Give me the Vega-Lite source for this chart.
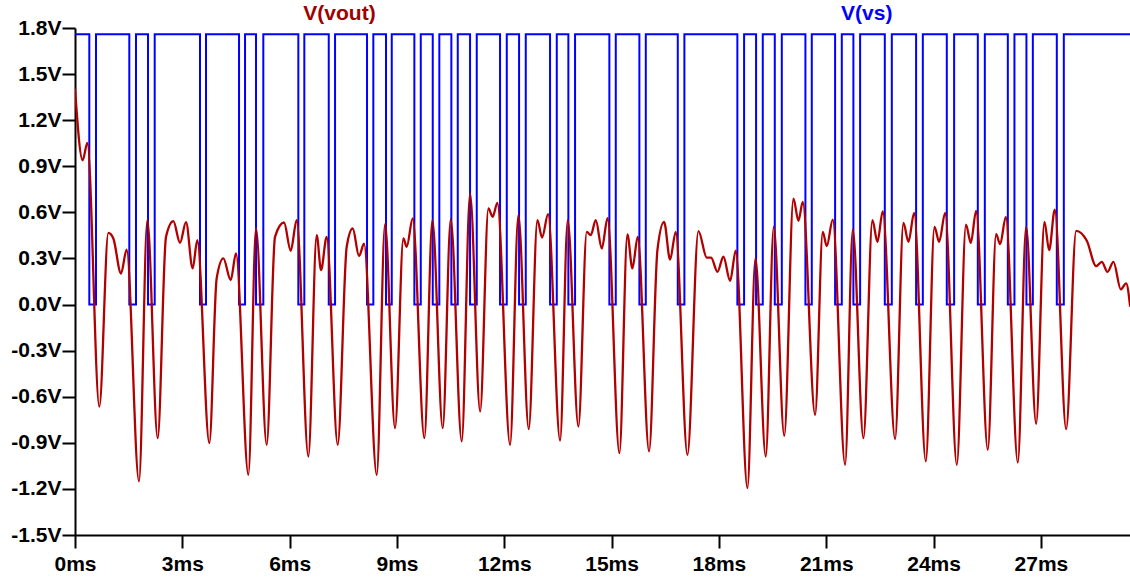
{
  "$schema": "https://vega.github.io/schema/vega-lite/v6.json",
  "autosize": {"type": "none"},
  "width": 1055,
  "height": 507,
  "padding": {"left": 75, "top": 28, "right": 0, "bottom": 42},
  "background": "white",
  "config": {
    "view": {"stroke": null},
    "axis": {
      "grid": false,
      "domainColor": "black",
      "domainWidth": 2,
      "tickColor": "black",
      "tickWidth": 2,
      "labelColor": "black",
      "labelFont": "Liberation Sans",
      "labelFontSize": 21,
      "labelFontWeight": "bold",
      "title": null
    }
  },
  "datasets": {
    "vs": [
      {"t": 0, "v": 1.76}, {"t": 0.400, "v": 0}, {"t": 0.587, "v": 1.76},
      {"t": 1.518, "v": 0}, {"t": 1.705, "v": 1.76}, {"t": 2.041, "v": 0}, {"t": 2.228, "v": 1.76},
      {"t": 3.494, "v": 0}, {"t": 3.662, "v": 1.76}, {"t": 4.585, "v": 0}, {"t": 4.753, "v": 1.76},
      {"t": 5.060, "v": 0}, {"t": 5.264, "v": 1.76}, {"t": 6.243, "v": 0}, {"t": 6.410, "v": 1.76},
      {"t": 7.093, "v": 0}, {"t": 7.269, "v": 1.76}, {"t": 8.163, "v": 0}, {"t": 8.339, "v": 1.76},
      {"t": 8.694, "v": 0}, {"t": 8.854, "v": 1.76}, {"t": 9.486, "v": 0}, {"t": 9.665, "v": 1.76},
      {"t": 10.000, "v": 0}, {"t": 10.184, "v": 1.76}, {"t": 10.520, "v": 0}, {"t": 10.699, "v": 1.76},
      {"t": 11.043, "v": 0}, {"t": 11.230, "v": 1.76}, {"t": 11.881, "v": 0}, {"t": 12.069, "v": 1.76},
      {"t": 12.413, "v": 0}, {"t": 12.600, "v": 1.76}, {"t": 13.279, "v": 0}, {"t": 13.467, "v": 1.76},
      {"t": 13.791, "v": 0}, {"t": 13.978, "v": 1.76}, {"t": 14.937, "v": 0}, {"t": 15.116, "v": 1.76},
      {"t": 15.776, "v": 0}, {"t": 15.955, "v": 1.76}, {"t": 16.849, "v": 0}, {"t": 17.034, "v": 1.76},
      {"t": 18.515, "v": 0}, {"t": 18.703, "v": 1.76}, {"t": 19.038, "v": 0}, {"t": 19.225, "v": 1.76},
      {"t": 19.561, "v": 0}, {"t": 19.757, "v": 1.76}, {"t": 20.417, "v": 0}, {"t": 20.595, "v": 1.76},
      {"t": 21.247, "v": 0}, {"t": 21.434, "v": 1.76}, {"t": 21.758, "v": 0}, {"t": 21.946, "v": 1.76},
      {"t": 22.636, "v": 0}, {"t": 22.832, "v": 1.76}, {"t": 23.511, "v": 0}, {"t": 23.699, "v": 1.76},
      {"t": 24.369, "v": 0}, {"t": 24.574, "v": 1.76}, {"t": 25.236, "v": 0}, {"t": 25.432, "v": 1.76},
      {"t": 26.075, "v": 0}, {"t": 26.260, "v": 1.76}, {"t": 26.595, "v": 0}, {"t": 26.774, "v": 1.76},
      {"t": 27.444, "v": 0}, {"t": 27.640, "v": 1.76}, {"t": 29.6, "v": 1.76}
    ],
    "vout": [
      {"t": 0.0, "v": 1.405}, {"t": 0.214, "v": 0.939}, {"t": 0.345, "v": 1.052}, {"t": 0.680, "v": -0.664},
      {"t": 0.932, "v": 0.467}, {"t": 1.072, "v": 0.430}, {"t": 1.286, "v": 0.202}, {"t": 1.444, "v": 0.358},
      {"t": 1.789, "v": -1.151}, {"t": 2.022, "v": 0.549}, {"t": 2.311, "v": -0.870}, {"t": 2.544, "v": 0.441},
      {"t": 2.749, "v": 0.543}, {"t": 2.935, "v": 0.402}, {"t": 3.103, "v": 0.536}, {"t": 3.289, "v": 0.235},
      {"t": 3.419, "v": 0.419}, {"t": 3.755, "v": -0.902}, {"t": 3.960, "v": 0.170}, {"t": 4.147, "v": 0.300},
      {"t": 4.352, "v": 0.159}, {"t": 4.501, "v": 0.333}, {"t": 4.846, "v": -1.108}, {"t": 5.060, "v": 0.495},
      {"t": 5.358, "v": -0.913}, {"t": 5.591, "v": 0.441}, {"t": 5.843, "v": 0.534}, {"t": 6.029, "v": 0.350},
      {"t": 6.197, "v": 0.549}, {"t": 6.523, "v": -0.989}, {"t": 6.756, "v": 0.452}, {"t": 6.878, "v": 0.224},
      {"t": 7.035, "v": 0.441}, {"t": 7.343, "v": -0.913}, {"t": 7.595, "v": 0.376}, {"t": 7.763, "v": 0.495},
      {"t": 7.940, "v": 0.315}, {"t": 8.079, "v": 0.397}, {"t": 8.434, "v": -1.108}, {"t": 8.667, "v": 0.523},
      {"t": 8.946, "v": -0.805}, {"t": 9.179, "v": 0.430}, {"t": 9.272, "v": 0.376}, {"t": 9.440, "v": 0.560},
      {"t": 9.766, "v": -0.870}, {"t": 9.990, "v": 0.549}, {"t": 10.279, "v": -0.805}, {"t": 10.503, "v": 0.555},
      {"t": 10.810, "v": -0.891}, {"t": 11.043, "v": 0.722}, {"t": 11.325, "v": -0.696}, {"t": 11.556, "v": 0.625},
      {"t": 11.676, "v": 0.571}, {"t": 11.807, "v": 0.662}, {"t": 12.161, "v": -0.913}, {"t": 12.394, "v": 0.582},
      {"t": 12.683, "v": -0.811}, {"t": 12.926, "v": 0.549}, {"t": 13.056, "v": 0.436}, {"t": 13.224, "v": 0.588},
      {"t": 13.559, "v": -0.885}, {"t": 13.773, "v": 0.549}, {"t": 14.071, "v": -0.794}, {"t": 14.305, "v": 0.473},
      {"t": 14.416, "v": 0.452}, {"t": 14.557, "v": 0.549}, {"t": 14.725, "v": 0.365}, {"t": 14.887, "v": 0.562},
      {"t": 15.218, "v": -0.967}, {"t": 15.441, "v": 0.456}, {"t": 15.581, "v": 0.235}, {"t": 15.730, "v": 0.441},
      {"t": 16.047, "v": -0.956}, {"t": 16.280, "v": 0.354}, {"t": 16.466, "v": 0.538}, {"t": 16.634, "v": 0.293},
      {"t": 16.792, "v": 0.473}, {"t": 17.119, "v": -0.978}, {"t": 17.426, "v": 0.478}, {"t": 17.659, "v": 0.306},
      {"t": 17.780, "v": 0.306}, {"t": 17.958, "v": 0.213}, {"t": 18.125, "v": 0.311}, {"t": 18.312, "v": 0.155},
      {"t": 18.470, "v": 0.350}, {"t": 18.796, "v": -1.195}, {"t": 19.020, "v": 0.300}, {"t": 19.308, "v": -0.989},
      {"t": 19.532, "v": 0.506}, {"t": 19.826, "v": -0.854}, {"t": 20.082, "v": 0.690}, {"t": 20.222, "v": 0.545},
      {"t": 20.343, "v": 0.668}, {"t": 20.688, "v": -0.718}, {"t": 20.902, "v": 0.473}, {"t": 21.014, "v": 0.380},
      {"t": 21.181, "v": 0.553}, {"t": 21.526, "v": -1.043}, {"t": 21.741, "v": 0.488}, {"t": 22.039, "v": -0.870},
      {"t": 22.290, "v": 0.549}, {"t": 22.430, "v": 0.408}, {"t": 22.579, "v": 0.607}, {"t": 22.924, "v": -0.876},
      {"t": 23.157, "v": 0.532}, {"t": 23.297, "v": 0.408}, {"t": 23.456, "v": 0.597}, {"t": 23.782, "v": -1.021},
      {"t": 24.025, "v": 0.506}, {"t": 24.155, "v": 0.408}, {"t": 24.323, "v": 0.597}, {"t": 24.649, "v": -1.043},
      {"t": 24.905, "v": 0.520}, {"t": 25.040, "v": 0.402}, {"t": 25.189, "v": 0.610}, {"t": 25.515, "v": -0.945},
      {"t": 25.748, "v": 0.458}, {"t": 25.860, "v": 0.393}, {"t": 26.019, "v": 0.571}, {"t": 26.354, "v": -1.028},
      {"t": 26.587, "v": 0.506}, {"t": 26.866, "v": -0.776}, {"t": 27.099, "v": 0.538}, {"t": 27.230, "v": 0.354},
      {"t": 27.388, "v": 0.618}, {"t": 27.705, "v": -0.811}, {"t": 27.985, "v": 0.480}, {"t": 28.283, "v": 0.415},
      {"t": 28.544, "v": 0.250}, {"t": 28.702, "v": 0.278}, {"t": 28.860, "v": 0.213}, {"t": 29.028, "v": 0.278},
      {"t": 29.233, "v": 0.099}, {"t": 29.382, "v": 0.138}, {"t": 29.494, "v": -0.014}
    ],
    "labels": [
      {"series": "V(vout)", "t": 7.394, "v": 1.852},
      {"series": "V(vs)", "t": 22.13, "v": 1.852}
    ]
  },
  "encoding": {
    "x": {
      "field": "t", "type": "quantitative",
      "scale": {"domain": [0, 29.49], "nice": false, "zero": false},
      "axis": {
        "values": [0, 3, 6, 9, 12, 15, 18, 21, 24, 27],
        "labelExpr": "datum.value + 'ms'",
        "tickSize": 13, "labelPadding": 5, "labelFlush": false, "labelOverlap": false
      }
    },
    "y": {
      "field": "v", "type": "quantitative",
      "scale": {"domain": [-1.5, 1.8], "nice": false, "zero": false},
      "axis": {
        "values": [-1.5, -1.2, -0.9, -0.6, -0.3, 0, 0.3, 0.6, 0.9, 1.2, 1.5, 1.8],
        "labelExpr": "(datum.value < 0 ? '-' : '') + format(abs(datum.value), '.1f') + 'V'",
        "tickSize": 13, "labelPadding": 1, "labelFlush": false, "labelOverlap": false
      }
    }
  },
  "layer": [
    {
      "mark": {"type": "rule", "color": "black", "strokeWidth": 2},
      "encoding": {"y": {"datum": 1.8}, "x": null}
    },
    {
      "data": {"name": "vs"},
      "mark": {"type": "line", "color": "#0000ff", "strokeWidth": 2, "interpolate": "step-after", "clip": true}
    },
    {
      "data": {"name": "vout"},
      "mark": {"type": "line", "color": "#b00000", "strokeWidth": 2.3, "interpolate": "monotone", "clip": true}
    },
    {
      "data": {"name": "labels"},
      "mark": {"type": "text", "font": "Liberation Sans", "fontSize": 21, "fontWeight": "bold", "align": "center", "baseline": "alphabetic"},
      "encoding": {
        "text": {"field": "series"},
        "color": {"field": "series", "type": "nominal", "scale": {"domain": ["V(vout)", "V(vs)"], "range": ["#a00000", "#0000ff"]}, "legend": null}
      }
    }
  ]
}
